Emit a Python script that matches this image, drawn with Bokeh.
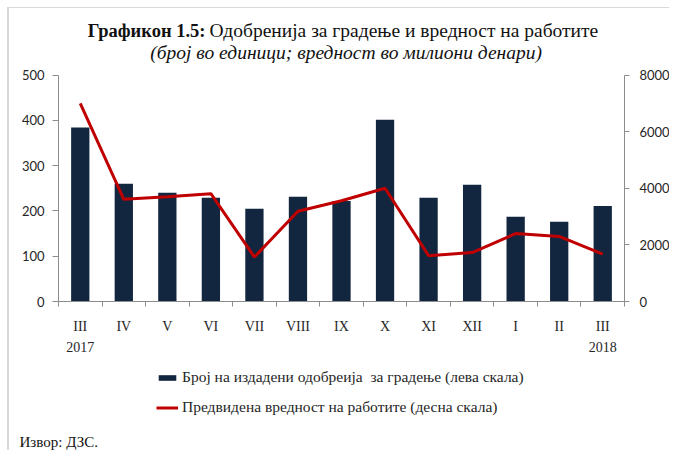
from bokeh.plotting import figure
from bokeh.models import Range1d, LinearAxis, FixedTicker, Legend, LegendItem, Label
from bokeh.embed import file_html
from bokeh.resources import INLINE

# ---- data ----
months = ["III", "IV", "V", "VI", "VII", "VIII", "IX", "X", "XI", "XII", "I", "II", "III"]
year_labels = ["2017", "", "", "", "", "", "", "", "", "", "", "", "2018"]
permits = [384, 260, 240, 229, 205, 231, 222, 401, 229, 258, 187, 176, 211]
works_value = [7000, 3610, 3700, 3810, 1570, 3190, 3560, 4000, 1620, 1730, 2400, 2300, 1670]
left_ticks = [0, 100, 200, 300, 400, 500]
right_ticks = [0, 2000, 4000, 6000, 8000]

title_bold = "Графикон 1.5:"
title_rest = "Одобренија за градење и вредност на работите"
subtitle = "(број  во единици; вредност во милиони денари)"
legend_bar = "Број на издадени одобреија  за градење (лева скала)"
legend_line = "Предвидена вредност на работите (десна скала)"
source_txt = "Извор: ДЗС."

xs = list(range(1, len(months) + 1))

SERIF = "Liberation Serif"
SANS = "Lato"
TXT = "#262626"
AX = "#8c8c8c"

# ---- layout geometry (canvas pixels) ----
W, H = 662, 443
PL, PR, PT, PB = 49, 615, 66.5, 293          # plot box: left/right axis x, top/bottom y
LMAX, RMAX = 500, 8000
n = len(months)
kx = (PR - PL) / n
ky = (PB - PT) / LMAX
kr = (PB - PT) / RMAX

x_rng = Range1d(0.5 - PL / kx, n + 0.5 + (W - PR) / kx)
y_rng = Range1d(-(H - PB) / ky, LMAX + PT / ky)
r_rng = Range1d(-(H - PB) / kr, RMAX + PT / kr)

p = figure(width=W, height=H, output_backend="svg", toolbar_location=None,
           x_range=x_rng, y_range=y_rng,
           x_axis_location=None, y_axis_location=None,
           min_border=0, min_border_left=0, min_border_right=0,
           min_border_top=0, min_border_bottom=0)
p.styles = {"margin-left": "7px", "margin-top": "7px",
            "border-left": "2px solid #d9d9d9", "border-top": "1px solid #d9d9d9"}
p.extra_y_ranges = {"right": r_rng}
p.xgrid.visible = False
p.ygrid.visible = False
p.outline_line_color = None
p.background_fill_color = "white"
p.border_fill_color = "white"

yl = LinearAxis(ticker=FixedTicker(ticks=left_ticks, minor_ticks=[]),
                fixed_location=0.5, bounds=(0, LMAX))
yl.major_tick_out = 6
yl.major_tick_in = 0
yl.major_label_standoff = 8
p.add_layout(yl, "left")

yr = LinearAxis(y_range_name="right", ticker=FixedTicker(ticks=right_ticks, minor_ticks=[]),
                fixed_location=n + 0.5, bounds=(0, RMAX))
yr.major_tick_out = 5
yr.major_tick_in = 0
yr.major_label_standoff = 10
p.add_layout(yr, "right")

for ax in (yl, yr):
    ax.axis_line_color = AX
    ax.major_tick_line_color = AX
    ax.minor_tick_line_color = None
    ax.major_label_text_font = SANS
    ax.major_label_text_font_size = "13px"
    ax.major_label_text_color = TXT

xb = LinearAxis(ticker=FixedTicker(ticks=xs, minor_ticks=[i + 0.5 for i in range(n + 1)]),
                major_label_overrides={x: m for x, m in zip(xs, months)},
                fixed_location=0, bounds=(0.5, n + 0.5))
xb.axis_line_color = AX
xb.major_tick_line_color = None
xb.minor_tick_line_color = AX
xb.minor_tick_out = 5
xb.minor_tick_in = 0
xb.major_tick_out = 0
xb.major_label_standoff = 12
xb.major_label_text_font = SERIF
xb.major_label_text_font_size = "14px"
xb.major_label_text_color = TXT
p.add_layout(xb, "below")

xy = LinearAxis(ticker=FixedTicker(ticks=xs, minor_ticks=[]),
                major_label_overrides={x: y for x, y in zip(xs, year_labels)},
                fixed_location=0, bounds=(0.5, n + 0.5))
xy.axis_line_color = None
xy.major_tick_line_color = None
xy.minor_tick_line_color = None
xy.major_tick_out = 0
xy.major_label_standoff = 40
xy.major_label_text_font = SERIF
xy.major_label_text_font_size = "14px"
xy.major_label_text_color = TXT
p.add_layout(xy, "below")

bars = p.vbar(x=xs, top=permits, width=0.42, fill_color="#13263f", line_color=None)
line = p.line(xs, works_value, y_range_name="right", line_color="#c00000", line_width=3)

legend = Legend(items=[LegendItem(label=legend_bar, renderers=[bars]),
                       LegendItem(label=legend_line, renderers=[line])],
                location=(147, H - 409), orientation="vertical")
legend.border_line_color = None
legend.background_fill_alpha = 0
legend.padding = 0
legend.margin = 0
legend.spacing = 10
legend.glyph_width = 22
legend.glyph_height = 7
legend.label_height = 20
legend.label_standoff = 4
legend.label_text_font = SERIF
legend.label_text_font_size = "15.5px"
legend.label_text_color = TXT
p.add_layout(legend)

def lab(cx, cy, text, align="left", style="normal", size="17px"):
    p.add_layout(Label(x=cx, y=H - cy, x_units="screen", y_units="screen", text=text,
                       text_font=SERIF, text_font_style=style, text_font_size=size,
                       text_color="#111111", text_align=align, text_baseline="middle"))

lab(196, 22, title_bold, align="right", style="bold", size="18.5px")
lab(200, 22, title_rest, size="19.5px")
lab(339, 44, subtitle, align="center", style="italic", size="19.5px")
lab(10, 433, source_txt, size="15px")

open("out.html", "w").write(file_html(p, INLINE))
